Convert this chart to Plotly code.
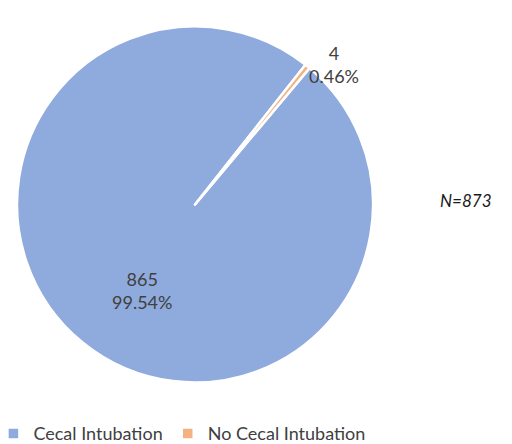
import plotly.graph_objects as go

# %% data
labels = ['Cecal Intubation', 'No Cecal Intubation']
values = [865, 4]
slice_colors = ['#8FAADC', '#F4B183']
total_note = 'N=873'

# label anchor spots (paper coords) for each slice, Excel style data labels
label_x = [0.199, 0.637]
label_y = [0.309, 0.928]

total = sum(values)

# %% figure
fig = go.Figure()
fig.add_trace(go.Pie(
    labels=labels,
    values=values,
    sort=False,
    direction='clockwise',
    rotation=40,
    marker=dict(colors=slice_colors, line=dict(color='white', width=2.5)),
    textinfo='none',
    hoverinfo='label+value+percent',
    domain=dict(x=[0.0176, 0.713], y=[0.155, 0.96]),
))

# data labels: value + percent
for i, v in enumerate(values):
    fig.add_annotation(
        text='%d<br>%.2f%%' % (v, v / total * 100),
        x=label_x[i], y=label_y[i], xref='paper', yref='paper',
        showarrow=False, align='center',
        font=dict(family='Lato', size=18, color='#404040'),
    )

fig.add_annotation(
    text='<i>' + total_note + '</i>',
    x=0.949, y=0.566, xref='paper', yref='paper',
    showarrow=False,
    font=dict(family='Lato', size=17, color='#1a1a1a'),
)

fig.update_layout(
    width=512, height=444,
    margin=dict(l=0, r=0, t=0, b=0, autoexpand=False),
    paper_bgcolor='white',
    plot_bgcolor='white',
    showlegend=True,
    legend=dict(
        orientation='h',
        x=-0.0285, y=-0.0005, xanchor='left', yanchor='bottom',
        font=dict(family='Lato', size=18, color='#404040'),
        itemwidth=30,
    ),
)

fig.write_html('out.html')
